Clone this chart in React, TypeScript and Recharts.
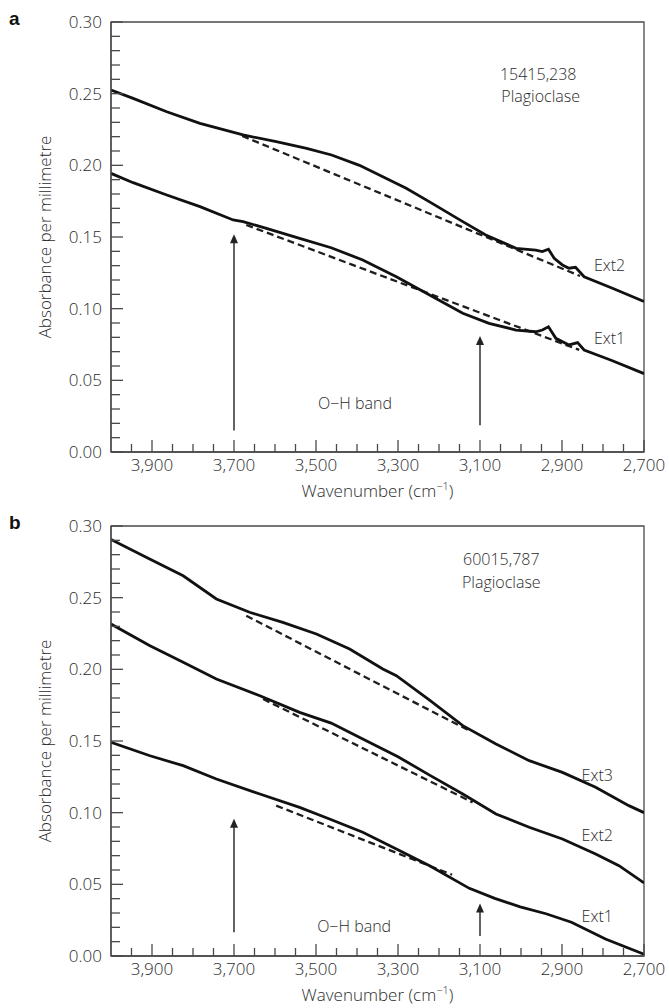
import React from 'react'
import {
  LineChart,
  Line,
  XAxis,
  YAxis,
  ReferenceLine,
  ReferenceDot,
  ReferenceArea,
} from 'recharts'

type Pt = { x: number; y: number }
type Note = { x: number; y: number; text: string }
type Arrow = { x: number; from: number; to: number }

// shared axes
const xTicks = [
  3950, 3900, 3850, 3800, 3750, 3700, 3650, 3600, 3550, 3500, 3450, 3400, 3350,
  3300, 3250, 3200, 3150, 3100, 3050, 3000, 2950, 2900, 2850, 2800, 2750, 2700,
]
const yTicks = [
  0, 0.01, 0.02, 0.03, 0.04, 0.05, 0.06, 0.07, 0.08, 0.09, 0.1, 0.11, 0.12,
  0.13, 0.14, 0.15, 0.16, 0.17, 0.18, 0.19, 0.2, 0.21, 0.22, 0.23, 0.24, 0.25,
  0.26, 0.27, 0.28, 0.29, 0.3,
]

// panel a: 15415,238
const aExt2: Pt[] = [
  { x: 4000, y: 0.2525 }, { x: 3946, y: 0.2467 }, { x: 3864, y: 0.2374 },
  { x: 3783, y: 0.2293 }, { x: 3678, y: 0.2212 }, { x: 3597, y: 0.2165 },
  { x: 3523, y: 0.2119 }, { x: 3462, y: 0.2072 }, { x: 3394, y: 0.2 },
  { x: 3337, y: 0.1921 }, { x: 3280, y: 0.184 }, { x: 3223, y: 0.1745 },
  { x: 3142, y: 0.1607 }, { x: 3086, y: 0.1514 }, { x: 3012, y: 0.1421 },
  { x: 2964, y: 0.1409 }, { x: 2948, y: 0.1398 }, { x: 2933, y: 0.1415 },
  { x: 2919, y: 0.1351 }, { x: 2899, y: 0.1305 }, { x: 2883, y: 0.1282 },
  { x: 2867, y: 0.1289 }, { x: 2846, y: 0.1223 }, { x: 2777, y: 0.1142 },
  { x: 2700, y: 0.105 },
]
const aExt1: Pt[] = [
  { x: 4000, y: 0.1944 }, { x: 3946, y: 0.1879 }, { x: 3864, y: 0.1793 },
  { x: 3783, y: 0.1712 }, { x: 3702, y: 0.1619 }, { x: 3678, y: 0.1607 },
  { x: 3621, y: 0.156 }, { x: 3540, y: 0.1491 }, { x: 3463, y: 0.1425 },
  { x: 3386, y: 0.134 }, { x: 3304, y: 0.1223 }, { x: 3223, y: 0.1095 },
  { x: 3142, y: 0.0968 }, { x: 3078, y: 0.0898 }, { x: 3012, y: 0.0851 },
  { x: 2964, y: 0.0839 }, { x: 2948, y: 0.0851 }, { x: 2933, y: 0.0874 },
  { x: 2915, y: 0.0793 }, { x: 2883, y: 0.0747 }, { x: 2862, y: 0.0763 },
  { x: 2846, y: 0.0712 }, { x: 2780, y: 0.064 }, { x: 2700, y: 0.0547 },
]
const aBase2: Pt[] = [{ x: 3680, y: 0.2205 }, { x: 2856, y: 0.1228 }]
const aBase1: Pt[] = [{ x: 3670, y: 0.1584 }, { x: 2858, y: 0.0712 }]
const aArrows: Arrow[] = [
  { x: 3700, from: 0.015, to: 0.152 },
  { x: 3100, from: 0.0186, to: 0.081 },
]
const aNotes: Note[] = [
  { x: 2958, y: 0.2635, text: '15415,238' },
  { x: 2952, y: 0.248, text: 'Plagioclase' },
  { x: 2784, y: 0.13, text: 'Ext2' },
  { x: 2784, y: 0.079, text: 'Ext1' },
  { x: 3405, y: 0.034, text: 'O\u2212H band' },
]

// panel b: 60015,787
const bExt3: Pt[] = [
  { x: 4000, y: 0.2906 }, { x: 3913, y: 0.278 }, { x: 3824, y: 0.2653 },
  { x: 3743, y: 0.2491 }, { x: 3662, y: 0.2398 }, { x: 3581, y: 0.2328 },
  { x: 3499, y: 0.2247 }, { x: 3418, y: 0.2142 }, { x: 3337, y: 0.2002 },
  { x: 3304, y: 0.1956 }, { x: 3223, y: 0.1785 }, { x: 3142, y: 0.1607 },
  { x: 3061, y: 0.1479 }, { x: 2980, y: 0.1363 }, { x: 2899, y: 0.1281 },
  { x: 2818, y: 0.1177 }, { x: 2737, y: 0.1049 }, { x: 2700, y: 0.1 },
]
const bExt2: Pt[] = [
  { x: 4000, y: 0.2316 }, { x: 3905, y: 0.2165 }, { x: 3824, y: 0.2049 },
  { x: 3743, y: 0.1933 }, { x: 3637, y: 0.1816 }, { x: 3540, y: 0.17 },
  { x: 3463, y: 0.1625 }, { x: 3386, y: 0.1514 }, { x: 3300, y: 0.139 },
  { x: 3223, y: 0.1262 }, { x: 3142, y: 0.113 }, { x: 3061, y: 0.0991 },
  { x: 2980, y: 0.0898 }, { x: 2899, y: 0.0816 }, { x: 2818, y: 0.0712 },
  { x: 2761, y: 0.063 }, { x: 2700, y: 0.051 },
]
const bExt1: Pt[] = [
  { x: 4000, y: 0.1491 }, { x: 3905, y: 0.1397 }, { x: 3824, y: 0.1328 },
  { x: 3743, y: 0.1235 }, { x: 3637, y: 0.113 }, { x: 3540, y: 0.1037 },
  { x: 3467, y: 0.0956 }, { x: 3386, y: 0.0863 }, { x: 3304, y: 0.0747 },
  { x: 3223, y: 0.063 }, { x: 3126, y: 0.0472 }, { x: 3064, y: 0.0402 },
  { x: 3002, y: 0.0343 }, { x: 2939, y: 0.0295 }, { x: 2877, y: 0.0236 },
  { x: 2794, y: 0.0118 }, { x: 2700, y: 0.0012 },
]
const bBase3: Pt[] = [{ x: 3670, y: 0.2374 }, { x: 3126, y: 0.1572 }]
const bBase2: Pt[] = [{ x: 3629, y: 0.1793 }, { x: 3118, y: 0.1072 }]
const bBase1: Pt[] = [{ x: 3597, y: 0.1049 }, { x: 3168, y: 0.0567 }]
const bArrows: Arrow[] = [
  { x: 3700, from: 0.0165, to: 0.0957 },
  { x: 3100, from: 0.014, to: 0.0366 },
]
const bNotes: Note[] = [
  { x: 3048, y: 0.2765, text: '60015,787' },
  { x: 3048, y: 0.261, text: 'Plagioclase' },
  { x: 2814, y: 0.126, text: 'Ext3' },
  { x: 2814, y: 0.084, text: 'Ext2' },
  { x: 2814, y: 0.028, text: 'Ext1' },
  { x: 3407, y: 0.021, text: 'O\u2212H band' },
]

const FONT = '"Open Sans", Lato, sans-serif'
const INK = '#2b2b2b'
const AXIS = '#4a4a4a'
const CURVE = '#111'
const W = 669
const H = 504

const XTick = (props: any) => {
  const { x, y, payload } = props
  const v = payload.value as number
  const major = v % 200 === 100
  return (
    <g>
      <line x1={x} y1={y} x2={x} y2={y - (major ? 12 : 8)} stroke={AXIS} strokeWidth={1.3} />
      {major && (
        <text x={x} y={y + 7} dy="0.71em" textAnchor="middle" fill={INK}
          fontFamily={FONT} fontWeight={300} fontSize={17}>
          {v.toLocaleString('en-US')}
        </text>
      )}
    </g>
  )
}

const YTick = (props: any) => {
  const { x, y, payload } = props
  const v = payload.value as number
  const major = Math.round(v * 100) % 5 === 0
  return (
    <g>
      <line x1={x} y1={y} x2={x + (major ? 12 : 9)} y2={y} stroke={AXIS} strokeWidth={1.3} />
      {major && (
        <text x={x - 9} y={y} dy="0.35em" textAnchor="end" fill={INK}
          fontFamily={FONT} fontWeight={300} fontSize={17}>
          {v.toFixed(2)}
        </text>
      )}
    </g>
  )
}

const XTitle = (props: any) => {
  const { viewBox } = props
  const cx = viewBox.x + viewBox.width / 2
  const cy = viewBox.y + 45
  return (
    <text x={cx} y={cy} textAnchor="middle" fill={INK} fontFamily={FONT} fontWeight={300} fontSize={17}>
      Wavenumber (cm
      <tspan dy={-7} fontSize={11}>{'\u22121'}</tspan>
      <tspan dy={7}>)</tspan>
    </text>
  )
}

const YTitle = (props: any) => {
  const { viewBox } = props
  const cx = viewBox.x
  const cy = viewBox.y + viewBox.height / 2
  return (
    <text x={cx} y={cy} transform={`rotate(-90, ${cx}, ${cy})`} textAnchor="middle"
      dy="0.35em" fill={INK} fontFamily={FONT} fontWeight={300} fontSize={17}>
      Absorbance per millimetre
    </text>
  )
}

const arrowShape = (props: any) => {
  const { x1, y1, x2, y2 } = props
  const top = Math.min(y1, y2)
  const bottom = Math.max(y1, y2)
  return (
    <g>
      <line x1={x1} y1={bottom} x2={x2} y2={top + 6} stroke="#222" strokeWidth={1.4} />
      <polygon points={`${x1},${top} ${x1 - 4},${top + 9} ${x1 + 4},${top + 9}`} fill="#222" />
    </g>
  )
}

interface PanelProps {
  tag: string
  solids: Pt[][]
  dashes: Pt[][]
  arrows: Arrow[]
  notes: Note[]
}

function Panel({ tag, solids, dashes, arrows, notes }: PanelProps) {
  return (
    <div style={{ position: 'relative', width: W, height: H }}>
      <div style={{ position: 'absolute', left: 9, top: 8, fontFamily: '"Liberation Sans", Arial, sans-serif', fontWeight: 700, fontSize: 19, color: '#111' }}>
        {tag}
      </div>
      <LineChart width={W} height={H} margin={{ top: 22, right: 25, bottom: 0, left: 45 }}>
        <XAxis type="number" dataKey="x" domain={[2700, 4000]} reversed allowDataOverflow
          ticks={xTicks} interval={0} tick={<XTick />} tickLine={false} tickSize={0} tickMargin={0}
          height={52} axisLine={{ stroke: AXIS, strokeWidth: 1.3 }} label={<XTitle />} />
        <YAxis type="number" domain={[0, 0.3]} allowDataOverflow ticks={yTicks} interval={0}
          tick={<YTick />} tickLine={false} tickSize={0} tickMargin={0} width={66}
          axisLine={{ stroke: AXIS, strokeWidth: 1.3 }} label={<YTitle />} />
        <ReferenceArea x1={4000} x2={2700} y1={0} y2={0.3} fill="none" stroke={AXIS} strokeWidth={1.3} />
        {dashes.map((d, i) => (
          <Line key={'d' + i} data={d} dataKey="y" stroke="#1e1e1e" strokeWidth={2.3}
            strokeDasharray="7 4" dot={false} isAnimationActive={false} type="linear" />
        ))}
        {solids.map((s, i) => (
          <Line key={'s' + i} data={s} dataKey="y" stroke={CURVE} strokeWidth={2.8}
            dot={false} isAnimationActive={false} type="linear" />
        ))}
        {arrows.map((a, i) => (
          <ReferenceLine key={'a' + i} segment={[{ x: a.x, y: a.from }, { x: a.x, y: a.to }]}
            shape={arrowShape} />
        ))}
        {notes.map((n, i) => (
          <ReferenceDot key={'n' + i} x={n.x} y={n.y} r={0} fill="none" stroke="none"
            label={{ value: n.text, position: 'center', fill: INK, fontSize: 16, fontFamily: FONT, fontWeight: 300 }} />
        ))}
      </LineChart>
    </div>
  )
}

export default function App() {
  return (
    <div style={{ position: 'absolute', left: 0, top: 0, width: W, height: 1008, background: '#fff' }}>
      <Panel tag="a" solids={[aExt2, aExt1]} dashes={[aBase2, aBase1]} arrows={aArrows} notes={aNotes} />
      <Panel tag="b" solids={[bExt3, bExt2, bExt1]} dashes={[bBase3, bBase2, bBase1]} arrows={bArrows} notes={bNotes} />
    </div>
  )
}
